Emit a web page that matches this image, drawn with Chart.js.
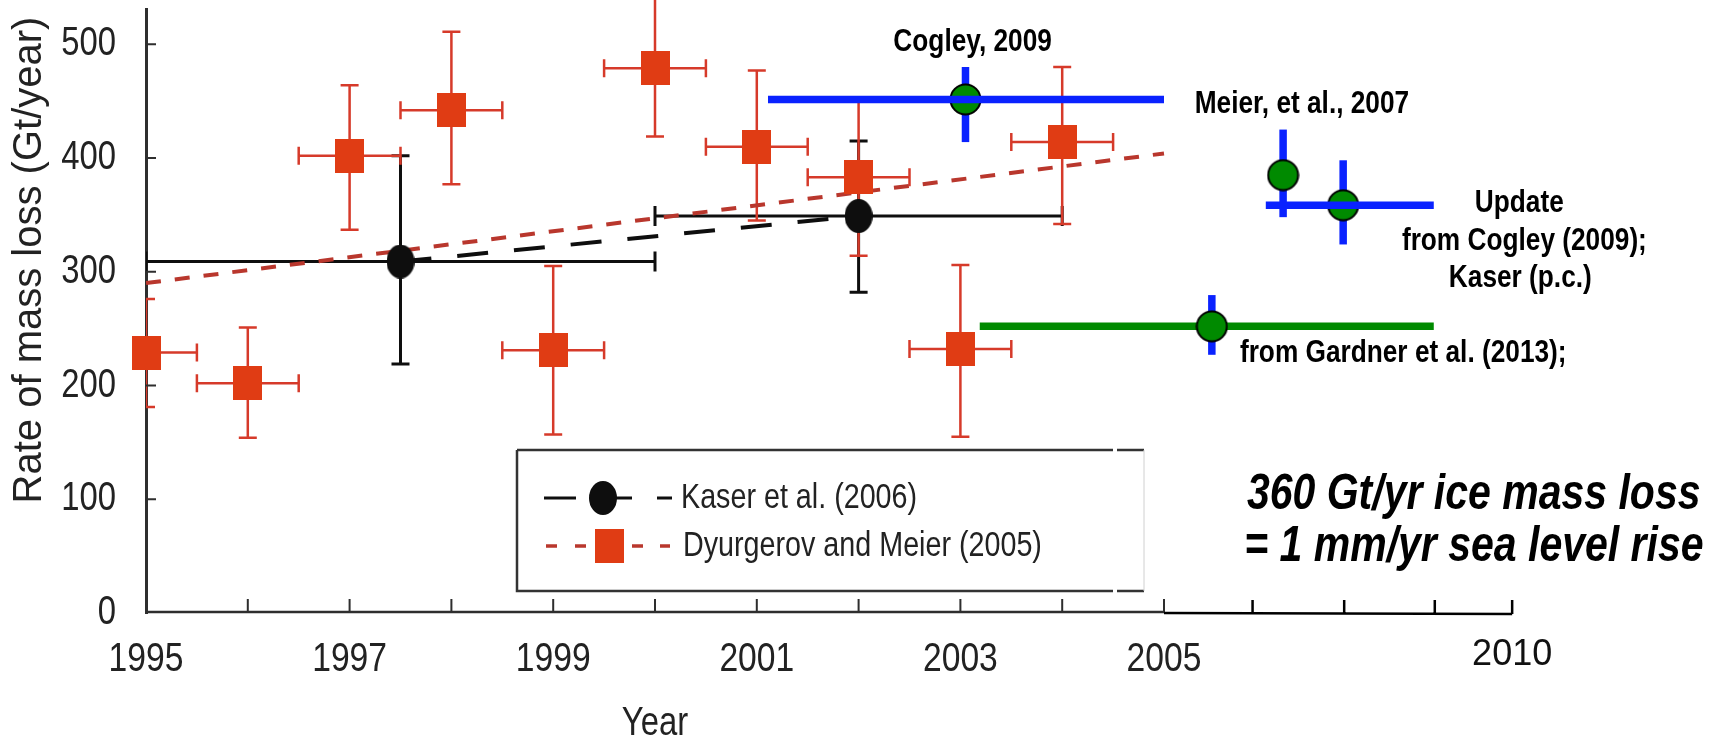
<!DOCTYPE html>
<html>
<head>
<meta charset="utf-8">
<title>Rate of glacier mass loss</title>
<script src="https://cdn.jsdelivr.net/npm/chart.js@4.4.1/dist/chart.umd.min.js"></script>
<style>
  html, body { margin: 0; padding: 0; background: #fff; }
  #wrap { width: 1722px; height: 738px; }
</style>
</head>
<body>
<div id="wrap"><canvas id="mass-loss" width="1722" height="738"></canvas></div>
<script>
// Dyurgerov and Meier (2005): annual rates with uncertainty
const dmYears = [1995, 1996, 1997, 1998, 1999, 2000, 2001, 2002, 2003, 2004];
const dmRate = [229, 202, 402, 442, 231, 479, 410, 383, 232, 414];
const dmLow = [181, 154, 337, 377, 157, 419, 345, 314, 155, 342];
const dmHigh = [276, 251, 464, 511, 305, 540, 477, 452, 306, 480];
const dmFrom = [1995, 1995.5, 1996.5, 1997.5, 1998.5, 1999.5, 2000.5, 2001.5, 2002.5, 2003.5];
const dmTo = [1995.5, 1996.5, 1997.5, 1998.5, 1999.5, 2000.5, 2001.5, 2002.5, 2003.5, 2004.5];
const dmTrendYears = [1995, 2005];
const dmTrendRate = [290, 404];

// Kaser et al. (2006): period means
const kaserYears = [1997.5, 2002];
const kaserRate = [309, 349];
const kaserLow = [219, 282];
const kaserHigh = [402, 415];
const kaserFrom = [1995, 2000];
const kaserTo = [2000, 2004];
const kaserTrendYears = [1997.5, 2002];
const kaserTrendRate = [309, 349];

// Later estimates, x in axis units (2005-2010 stretch is compressed)
const recentYears = [2003.05, 2006.17, 2006.76, 2005.47];
const recentRate = [451.5, 385, 358.5, 252];
const recentLow = [414, 348, 324, 227];
const recentHigh = [480, 425, 398, 279.5];
const recentFrom = [2001.11, null, 2006.0, 2003.19];
const recentTo = [2005.0, null, 2007.65, 2007.65];

// Axis ticks
const yTicks = [0, 100, 200, 300, 400, 500];
const yearMarks = [1996, 1997, 1998, 1999, 2000, 2001, 2002, 2003, 2004, 2005];
const yearLabels = [1995, 1997, 1999, 2001, 2003, 2005];
const extMarks = [2005.87, 2006.77, 2007.66, 2008.42];
const extLabelPos = 2008.42;
const extLabel = '2010';

// Liberation Sans squeezed to 82% stands in for a narrow Helvetica
const SANS = '"Liberation Sans", Arial, sans-serif';
const SQUEEZE = 0.82;
const RED = '#e03c14';
const RED_BAR = '#d63a2a';
const RED_TREND = '#b9372d';
const BLACK = '#0e0e0e';
const BLUE = '#0a22ff';
const GREEN = '#008a00';
const AXIS = '#2e2e2e';
const TEXT = '#222';
const spanColors = [BLUE, null, BLUE, GREEN];

function makeMarker(w, h, paint) {
  const c = document.createElement('canvas');
  c.width = w;
  c.height = h;
  paint(c.getContext('2d'), w, h);
  return c;
}

const squareMarker = makeMarker(29, 34, (g, w, h) => {
  g.fillStyle = RED;
  g.fillRect(0, 0, w, h);
});
const kaserMarker = makeMarker(28, 34, (g, w, h) => {
  g.fillStyle = BLACK;
  g.beginPath();
  g.ellipse(w / 2, h / 2, w / 2, h / 2, 0, 0, Math.PI * 2);
  g.fill();
});
const recentMarker = makeMarker(33, 33, (g, w, h) => {
  g.fillStyle = GREEN;
  g.strokeStyle = '#000';
  g.lineWidth = 2;
  g.beginPath();
  g.arc(w / 2, h / 2, w / 2 - 1.5, 0, Math.PI * 2);
  g.fill();
  g.stroke();
});

const points = (xs, ys) => xs.map((x, i) => ({ x, y: ys[i] }));

function span(ctx, x0, x1, y, color, width, cap) {
  ctx.strokeStyle = color;
  ctx.lineWidth = width;
  ctx.lineCap = 'butt';
  ctx.beginPath();
  ctx.moveTo(x0, y);
  ctx.lineTo(x1, y);
  if (cap) {
    ctx.moveTo(x0, y - cap);
    ctx.lineTo(x0, y + cap);
    ctx.moveTo(x1, y - cap);
    ctx.lineTo(x1, y + cap);
  }
  ctx.stroke();
}

function stem(ctx, x, y0, y1, color, width, cap) {
  ctx.strokeStyle = color;
  ctx.lineWidth = width;
  ctx.lineCap = 'butt';
  ctx.beginPath();
  ctx.moveTo(x, y0);
  ctx.lineTo(x, y1);
  if (cap) {
    ctx.moveTo(x - cap, y0);
    ctx.lineTo(x + cap, y0);
    ctx.moveTo(x - cap, y1);
    ctx.lineTo(x + cap, y1);
  }
  ctx.stroke();
}

function text(ctx, str, x, y, font, align = 'center', squeeze = SQUEEZE, color = TEXT) {
  ctx.save();
  ctx.font = font;
  ctx.fillStyle = color;
  ctx.textAlign = align;
  ctx.textBaseline = 'middle';
  ctx.translate(x, y);
  ctx.scale(squeeze, 1);
  ctx.fillText(str, 0, 0);
  ctx.restore();
}

const RECENT = 4;

const errorBars = {
  id: 'errorBars',
  beforeDatasetsDraw(chart) {
    const { ctx, chartArea, scales: { x, y } } = chart;
    ctx.save();
    ctx.beginPath();
    ctx.rect(chartArea.left, 0, chart.width - chartArea.left, chartArea.bottom);
    ctx.clip();
    kaserYears.forEach((yr, i) => {
      const py = y.getPixelForValue(kaserRate[i]);
      span(ctx, x.getPixelForValue(kaserFrom[i]), x.getPixelForValue(kaserTo[i]), py, BLACK, 3, 10);
      stem(ctx, x.getPixelForValue(yr), y.getPixelForValue(kaserLow[i]), y.getPixelForValue(kaserHigh[i]), BLACK, 3, 9);
    });
    dmYears.forEach((yr, i) => {
      const py = y.getPixelForValue(dmRate[i]);
      span(ctx, x.getPixelForValue(dmFrom[i]), x.getPixelForValue(dmTo[i]), py, RED_BAR, 2.5, 9);
      stem(ctx, x.getPixelForValue(yr), y.getPixelForValue(dmLow[i]), y.getPixelForValue(dmHigh[i]), RED_BAR, 2.5, 9);
    });
    ctx.restore();
  },
  beforeDatasetDraw(chart, args) {
    if (args.index !== RECENT) return;
    const { ctx, scales: { x, y } } = chart;
    ctx.save();
    recentYears.forEach((yr, i) => {
      if (spanColors[i] === GREEN) {
        span(ctx, x.getPixelForValue(recentFrom[i]), x.getPixelForValue(recentTo[i]), y.getPixelForValue(recentRate[i]), GREEN, 7.5, 0);
      }
      stem(ctx, x.getPixelForValue(yr), y.getPixelForValue(recentLow[i]), y.getPixelForValue(recentHigh[i]), BLUE, 7.5, 0);
    });
    ctx.restore();
  },
  afterDatasetDraw(chart, args) {
    if (args.index !== RECENT) return;
    const { ctx, scales: { x, y } } = chart;
    ctx.save();
    recentYears.forEach((yr, i) => {
      if (spanColors[i] === BLUE) {
        span(ctx, x.getPixelForValue(recentFrom[i]), x.getPixelForValue(recentTo[i]), y.getPixelForValue(recentRate[i]), BLUE, 7.5, 0);
      }
    });
    ctx.restore();
  },
};

// Source labels and the sea-level note, placed in axis units
const notes = [
  { text: 'Cogley, 2009', x: 2003.12, y: 502 },
  { text: 'Meier, et al., 2007', x: 2006.355, y: 447 },
  { text: 'Update', x: 2008.49, y: 360 },
  { text: 'from Cogley (2009);', x: 2008.54, y: 326.5 },
  { text: 'Kaser (p.c.)', x: 2008.5, y: 294 },
  { text: 'from Gardner et al. (2013);', x: 2007.35, y: 228 },
];
const seaLevelNote = [
  { text: '360 Gt/yr ice mass loss', x: 2010.27, y: 103.5 },
  { text: '= 1 mm/yr sea level rise', x: 2010.3, y: 58 },
];

const decorations = {
  id: 'decorations',
  afterDatasetsDraw(chart) {
    const { ctx, chartArea, scales: { x, y } } = chart;
    const base = chartArea.bottom;
    ctx.save();

    // inward tick marks
    ctx.strokeStyle = AXIS;
    ctx.lineWidth = 2;
    ctx.beginPath();
    yTicks.slice(1).forEach((v) => {
      const py = y.getPixelForValue(v);
      ctx.moveTo(chartArea.left, py);
      ctx.lineTo(chartArea.left + 10, py);
    });
    yearMarks.forEach((v) => {
      const px = x.getPixelForValue(v);
      ctx.moveTo(px, base - 1);
      ctx.lineTo(px, base - 14);
    });
    ctx.stroke();

    // year axis up to 2005, then the added 2005-2010 stretch
    const x2005 = x.getPixelForValue(2005);
    const xEnd = x.getPixelForValue(extLabelPos);
    ctx.lineWidth = 2.5;
    ctx.beginPath();
    ctx.moveTo(chartArea.left, base - 1);
    ctx.lineTo(x2005, base - 1);
    ctx.stroke();
    ctx.strokeStyle = '#000';
    ctx.beginPath();
    ctx.moveTo(x2005, base);
    ctx.lineTo(xEnd, base + 1);
    extMarks.forEach((v) => {
      const px = x.getPixelForValue(v);
      ctx.moveTo(px, base + 1);
      ctx.lineTo(px, base - 13);
    });
    ctx.stroke();
    ctx.restore();

    // tick labels
    yTicks.forEach((v) => {
      text(ctx, String(v), chartArea.left - 30, y.getPixelForValue(v), `40px ${SANS}`, 'right');
    });
    yearLabels.forEach((v) => {
      text(ctx, String(v), x.getPixelForValue(v), base + 47, `41px ${SANS}`);
    });
    text(ctx, extLabel, x.getPixelForValue(extLabelPos), base + 42, `36px ${SANS}`, 'center', 1, '#111');

    // axis titles
    text(ctx, 'Year', x.getPixelForValue(2000), base + 111, `40px ${SANS}`);
    ctx.save();
    ctx.translate(30, 260);
    ctx.rotate(-Math.PI / 2);
    text(ctx, 'Rate of mass loss (Gt/year)', 0, 0, `40px ${SANS}`, 'center', 1);
    ctx.restore();

    // legend
    ctx.save();
    const box = { left: 517, top: 450, right: 1144, bottom: 591 };
    ctx.fillStyle = '#fff';
    ctx.fillRect(box.left, box.top, box.right - box.left, box.bottom - box.top);
    ctx.strokeStyle = '#333';
    ctx.lineWidth = 2.5;
    ctx.beginPath();
    ctx.moveTo(box.left, box.top);
    ctx.lineTo(1113, box.top);
    ctx.moveTo(1117, box.top);
    ctx.lineTo(box.right, box.top);
    ctx.moveTo(box.left, box.top);
    ctx.lineTo(box.left, box.bottom);
    ctx.lineTo(1113, box.bottom);
    ctx.moveTo(1117, box.bottom);
    ctx.lineTo(box.right, box.bottom);
    ctx.stroke();
    ctx.strokeStyle = '#d0d0d0';
    ctx.lineWidth = 1;
    ctx.beginPath();
    ctx.moveTo(box.right, box.top);
    ctx.lineTo(box.right, box.bottom);
    ctx.stroke();

    const row1 = 498;
    const row2 = 546;
    ctx.strokeStyle = BLACK;
    ctx.lineWidth = 3;
    ctx.beginPath();
    ctx.moveTo(544, row1);
    ctx.lineTo(576, row1);
    ctx.moveTo(603, row1);
    ctx.lineTo(632, row1);
    ctx.moveTo(657, row1);
    ctx.lineTo(672, row1);
    ctx.stroke();
    ctx.drawImage(kaserMarker, 603 - kaserMarker.width / 2, row1 - kaserMarker.height / 2);

    ctx.strokeStyle = RED_TREND;
    ctx.lineWidth = 3.5;
    ctx.beginPath();
    [[546, 557], [575, 586], [632, 643], [660, 670]].forEach(([a, b]) => {
      ctx.moveTo(a, row2);
      ctx.lineTo(b, row2);
    });
    ctx.stroke();
    ctx.drawImage(squareMarker, 609 - squareMarker.width / 2, row2 - squareMarker.height / 2);
    ctx.restore();

    text(ctx, 'Kaser et al. (2006)', 681, row1, `35px ${SANS}`, 'left');
    text(ctx, 'Dyurgerov and Meier (2005)', 683, row2, `35px ${SANS}`, 'left');

    // source labels
    notes.forEach((n) => {
      text(ctx, n.text, x.getPixelForValue(n.x), y.getPixelForValue(n.y), `bold 32px ${SANS}`, 'center', SQUEEZE, '#000');
    });
    seaLevelNote.forEach((n) => {
      text(ctx, n.text, x.getPixelForValue(n.x), y.getPixelForValue(n.y), `italic bold 50px ${SANS}`, 'right', SQUEEZE, '#000');
    });
  },
};

const chart = new Chart(document.getElementById('mass-loss'), {
  type: 'scatter',
  data: {
    datasets: [
      {
        label: 'Dyurgerov and Meier (2005) trend',
        type: 'line',
        data: points(dmTrendYears, dmTrendRate),
        borderColor: RED_TREND,
        borderWidth: 4,
        borderDash: [15, 14],
        pointRadius: 0,
        order: 6,
      },
      {
        label: 'Kaser et al. (2006) trend',
        type: 'line',
        data: points(kaserTrendYears, kaserTrendRate),
        borderColor: BLACK,
        borderWidth: 4,
        borderDash: [31, 26],
        pointRadius: 0,
        order: 5,
      },
      {
        label: 'Dyurgerov and Meier (2005)',
        data: points(dmYears, dmRate),
        pointStyle: squareMarker,
        pointRadius: 5,
        clip: false,
        order: 4,
      },
      {
        label: 'Kaser et al. (2006)',
        data: points(kaserYears, kaserRate),
        pointStyle: kaserMarker,
        pointRadius: 5,
        order: 3,
      },
      {
        label: 'Recent estimates',
        data: points(recentYears, recentRate),
        pointStyle: recentMarker,
        pointRadius: 5,
        order: 1,
      },
    ],
  },
  options: {
    responsive: false,
    animation: false,
    events: [],
    layout: { padding: { top: 9, right: 49, left: 0, bottom: 0 } },
    plugins: {
      legend: { display: false },
      tooltip: { enabled: false },
    },
    scales: {
      x: {
        type: 'linear',
        min: 1995,
        max: 2010,
        grid: { display: false },
        border: { display: false },
        ticks: { display: false },
        afterFit: (scale) => {
          scale.height = 125;
          scale.paddingLeft = 0;
          scale.paddingRight = 0;
        },
      },
      y: {
        type: 'linear',
        min: 0,
        max: 531,
        grid: { display: false, drawTicks: false },
        border: { display: true, color: AXIS, width: 3 },
        ticks: { display: false },
        afterFit: (scale) => {
          scale.width = 146;
          scale.paddingTop = 0;
          scale.paddingBottom = 0;
        },
      },
    },
  },
  plugins: [errorBars, decorations],
});
</script>
</body>
</html>
